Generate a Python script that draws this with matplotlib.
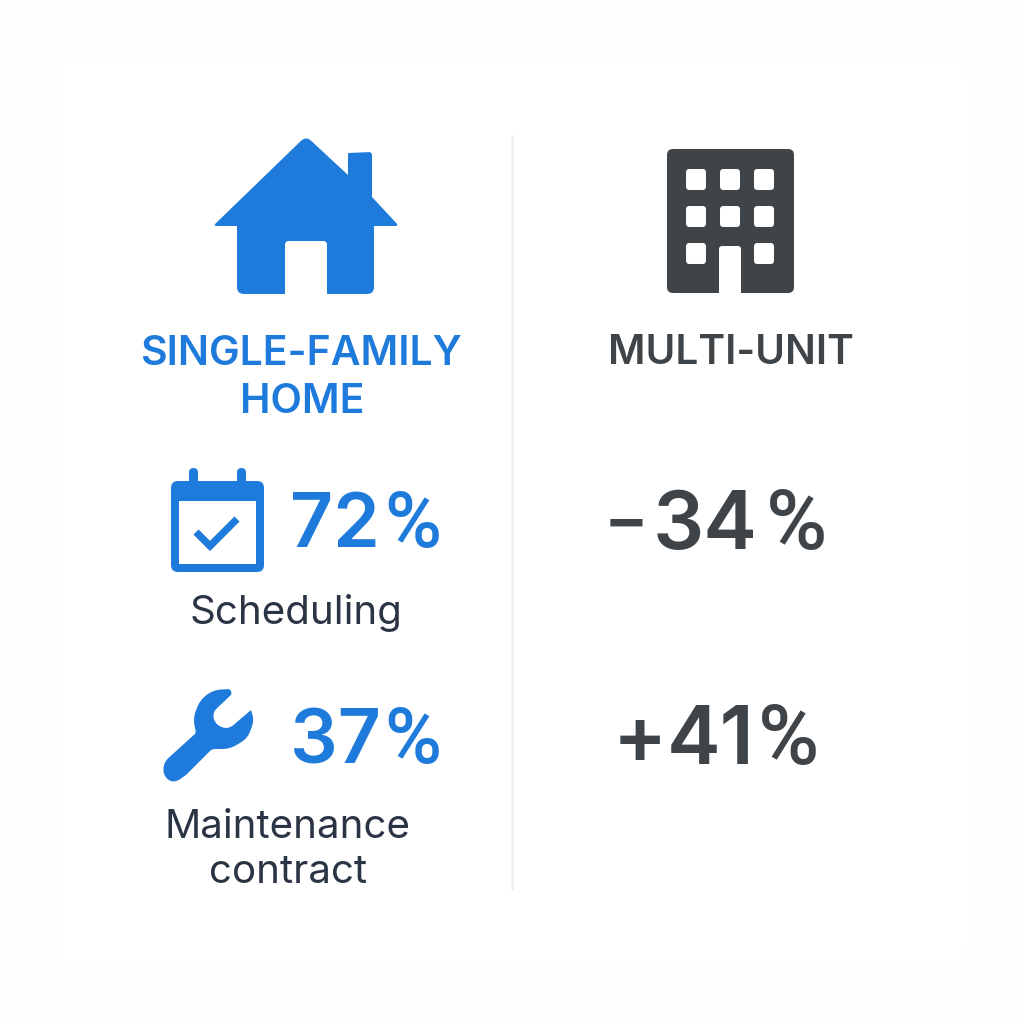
import matplotlib
matplotlib.use('Agg')
import matplotlib.pyplot as plt
from matplotlib.patches import PathPatch, FancyBboxPatch, Rectangle
from matplotlib.path import Path
import numpy as np

plt.rcParams['font.family'] = ['Inter', 'DejaVu Sans']

# Data
headers = ['SINGLE-FAMILY\nHOME', 'MULTI-UNIT']
single_values = ['72', '37']
multi_signs = ['\u2212', '+']
multi_values = ['34', '41']
metric_labels = ['Scheduling', 'Maintenance\ncontract']

BLUE = '#1f7bdb'
DARK = '#3f4449'
INK = '#2b3444'


def round_poly(points, r):
    # closed polygon with rounded corners, r is one radius or one per corner
    pts = np.array(points, dtype=float)
    n = len(pts)
    rs = np.full(n, r) if np.isscalar(r) else np.array(r, dtype=float)
    verts, codes = [], []
    for i in range(n):
        p, a, b = pts[i], pts[i - 1], pts[(i + 1) % n]
        d1 = (a - p) / np.linalg.norm(a - p)
        d2 = (b - p) / np.linalg.norm(b - p)
        r1 = min(rs[i], np.linalg.norm(a - p) / 2)
        r2 = min(rs[i], np.linalg.norm(b - p) / 2)
        verts += [p + d1 * r1, p, p + d2 * r2]
        codes += [Path.LINETO, Path.CURVE3, Path.CURVE3]
    codes[0] = Path.MOVETO
    verts.append(verts[0])
    codes.append(Path.CLOSEPOLY)
    return Path(verts, codes)


def rbox(ax, x0, y0, x1, y1, r, color, **kw):
    ax.add_patch(FancyBboxPatch((x0 + r, y0 + r), x1 - x0 - 2 * r, y1 - y0 - 2 * r,
                                boxstyle='round,pad=%f,rounding_size=%f' % (r, r),
                                fc=color, ec='none', **kw))


def percent(ax, x, y, color, size=55):
    ax.text(x, y, '%', color=color, fontsize=size, family='Roboto', fontweight='medium',
            ha='left', va='baseline')


fig = plt.figure(figsize=(10.24, 10.24), dpi=100, facecolor='#fdfdfd')
ax = fig.add_axes([0, 0, 1, 1])
ax.set_xlim(0, 1024)
ax.set_ylim(1024, 0)
ax.axis('off')

# Card and divider
rbox(ax, 57, 57, 968, 966, 28, 'white')
ax.plot([512, 512], [135, 890], color='#eeeeee', lw=1.8, solid_capstyle='butt')

# House icon
house = [(306, 136), (348, 175), (348, 153), (372, 152), (372, 197), (399, 226),
         (374, 226), (374, 294), (327, 294), (327, 241), (285, 241), (285, 294),
         (237, 294), (237, 226), (213, 226)]
house_r = [7, 0, 1, 3, 0, 4, 0, 7, 0, 4, 4, 0, 7, 0, 4]
ax.add_patch(PathPatch(round_poly(house, house_r), fc=BLUE, ec='none'))

# Building icon
rbox(ax, 667, 149, 794, 293, 6, DARK)
for wy in [169, 206, 243]:
    for wx in [686, 720, 754]:
        if wy == 243 and wx == 720:
            continue
        rbox(ax, wx, wy, wx + 20, wy + 21, 3.5, 'white')
rbox(ax, 719, 246, 741, 300, 3, 'white')
ax.add_patch(Rectangle((719, 293), 22, 8, fc='white', ec='none'))

# Calendar icon
rbox(ax, 189, 468, 198, 490, 4.5, BLUE)
rbox(ax, 237, 468, 246, 490, 4.5, BLUE)
rbox(ax, 171, 481, 264, 572, 7, BLUE)
ax.add_patch(Rectangle((179, 501), 77, 63, fc='white', ec='none'))
ax.plot([196, 210, 237], [532, 546, 519], color=BLUE, lw=5.2,
        solid_joinstyle='miter', solid_capstyle='butt')

# Wrench icon
wrench = [(230, 689), (232, 694), (213, 712), (214, 722), (222, 728), (230, 728),
          (251, 710), (254, 720), (248, 738), (230, 749), (212, 749), (183, 778),
          (172, 783), (163, 775), (164, 762), (196, 733), (193, 718), (200, 700), (213, 690)]
wrench_r = [2, 2, 5, 6, 5, 4, 1, 5, 8, 8, 3, 7, 7, 7, 6, 2, 8, 8, 8]
ax.add_patch(PathPatch(round_poly(wrench, wrench_r), fc=BLUE, ec='none'))

# Text
ax.text(302, 378, headers[0], color=BLUE, fontsize=29.5, fontweight='semibold',
        ha='center', va='center', linespacing=1.36)
ax.text(731, 353, headers[1], color=DARK, fontsize=29.2, fontweight='semibold',
        ha='center', va='center')

for v, y in zip(single_values, [547, 763]):
    ax.text(290, y, v, color=BLUE, fontsize=54, fontweight='semibold', ha='left', va='baseline')
    percent(ax, 384, y, BLUE, 56)

for s, sx, sy, ss, v, vx, px, y in zip(multi_signs, [604, 613], [542, 764], [48, 58],
                                       multi_values, [653, 667], [766, 758], [549, 764]):
    ax.text(sx, sy, s, color=DARK, fontsize=ss, fontweight='semibold', ha='left', va='baseline')
    ax.text(vx, y, v, color=DARK, fontsize=58, fontweight='semibold', ha='left', va='baseline')
    percent(ax, px, y, DARK, 60)

ax.text(296, 613, metric_labels[0], color=INK, fontsize=29, ha='center', va='center')
ax.text(288, 850, metric_labels[1], color=INK, fontsize=29, ha='center', va='center',
        linespacing=1.28)

fig.savefig('out.png', dpi=100, facecolor=fig.get_facecolor())
